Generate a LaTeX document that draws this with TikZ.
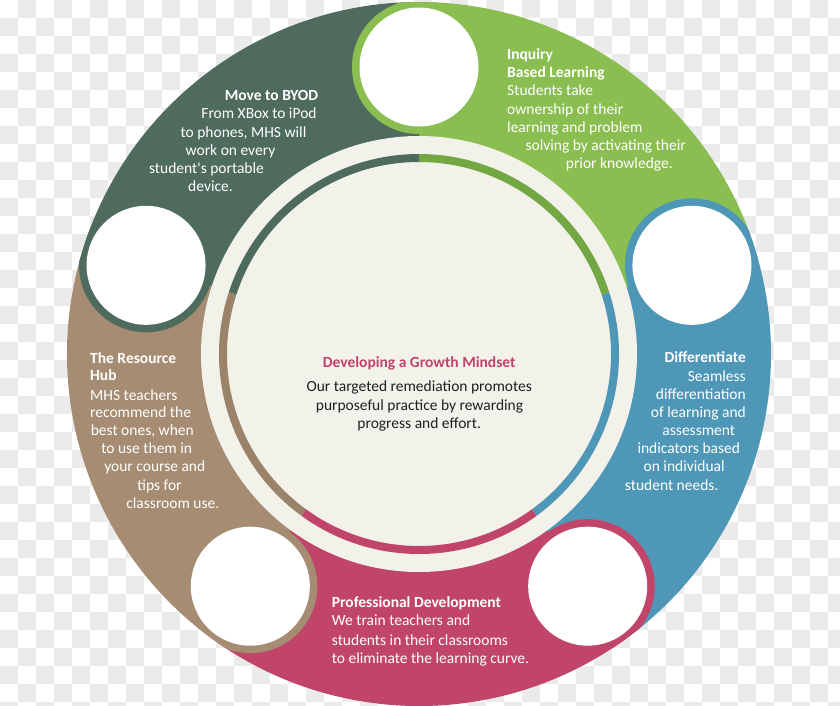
\documentclass[tikz,border=0pt]{standalone}
\usepackage{fontspec}
\setmainfont{Carlito}[Ligatures=TeXOff]
\definecolor{dkgreen}{HTML}{4E6B5E}
\definecolor{ltgreen}{HTML}{8BBE50}
\definecolor{ringgreen}{HTML}{72A744}
\definecolor{blu}{HTML}{4F97B7}
\definecolor{pnk}{HTML}{C14568}
\definecolor{tanc}{HTML}{A68C72}
\definecolor{ringtan}{HTML}{9A8369}
\definecolor{cream}{HTML}{F3F2EA}
\definecolor{chk}{HTML}{EBEBEB}
\definecolor{bodytxt}{HTML}{1E1E1E}
\definecolor{titlepink}{HTML}{C0436A}
\begin{document}
\begin{tikzpicture}[x=1pt,y=1pt,
  txt/.style={text=white, inner sep=0pt, font=\fontsize{15.5}{18}\selectfont},
  head/.style={txt, font=\fontsize{15.5}{18}\selectfont\bfseries},
  ctxt/.style={text=bodytxt, inner sep=0pt, font=\fontsize{15.5}{18}\selectfont},
  chead/.style={text=titlepink, inner sep=0pt, font=\fontsize{15.5}{18}\selectfont\bfseries}]
\useasboundingbox (0,0) rectangle (840,-706);
\clip (0,0) rectangle (840,-706);
\fill[white] (0,0) rectangle (840,-706);
\foreach \i in {0,...,46}{
  \foreach \j in {0,...,39}{
    \pgfmathtruncatemacro{\pp}{mod(\i+\j,2)}
    \ifnum\pp=1 \fill[chk] (\i*18,-\j*18) rectangle ++(18,-18); \fi
  }
}
\coordinate (C) at (419,-354);
% outer wedges
\foreach \a/\c in {306/blu, 18/ltgreen, 90/dkgreen, 162/tanc, 234/pnk}{
  \fill[\c] (C) -- ++(\a:352pt) arc[start angle=\a, end angle=\a+72, radius=352pt] -- cycle;
}
% bordered white circles
\begin{scope}
\clip (C) circle[radius=352pt];
\foreach \a/\c in {306/blu, 18/ltgreen, 90/dkgreen, 162/tanc, 234/pnk}{
  \fill[\c] (C) ++(\a+72:287pt) circle[radius=67pt];
  \fill[white] (C) ++(\a+72:287pt) circle[radius=59.5pt];
}
\end{scope}
% cream centre
\fill[cream] (C) circle[radius=218pt];
\foreach \a/\c in {306/blu, 18/ringgreen, 90/dkgreen, 162/ringtan, 234/pnk}{
  \draw[\c, line width=8pt] (C) ++(\a:196pt) arc[start angle=\a, end angle=\a+72, radius=196pt];
}
% Move to BYOD
\node[head, anchor=base] (byod1) at (271.5,-101) {Move to BYOD};
\node[txt, anchor=base] (byod2) at (259,-119) {From XBox to iPod};
\node[txt, anchor=base] (byod3) at (243.5,-137) {to phones, MHS will};
\node[txt, anchor=base] (byod4) at (230.5,-155) {work on every};
\node[txt, anchor=base] (byod5) at (206.5,-173) {student's portable};
\node[txt, anchor=base] (byod6) at (210.5,-191) {device.};
% Inquiry
\node[head, anchor=base west] (inq1) at (507,-60) {Inquiry};
\node[head, anchor=base west] (inq2) at (507,-78) {Based Learning};
\node[txt, anchor=base west] (inq3) at (507,-96) {Students take};
\node[txt, anchor=base west] (inq4) at (507,-114) {ownership of their};
\node[txt, anchor=base west] (inq5) at (507,-132) {learning and problem};
\node[txt, anchor=base] (inq6) at (605.7,-150) {solving by activating their};
\node[txt, anchor=base] (inq7) at (619.3,-168) {prior knowledge.};
% Differentiate
\node[head, anchor=base east] (dif1) at (746,-362.7) {Differentiate};
\node[txt, anchor=base east] (dif2) at (746,-381) {Seamless};
\node[txt, anchor=base east] (dif3) at (746,-399) {differentiation};
\node[txt, anchor=base east] (dif4) at (746,-417) {of learning and};
\node[txt, anchor=base] (dif5) at (698.8,-435.7) {assessment};
\node[txt, anchor=base] (dif6) at (688.8,-453.7) {indicators based};
\node[txt, anchor=base] (dif7) at (684.2,-471.7) {on individual};
\node[txt, anchor=base] (dif8) at (671.7,-490.3) {student needs.};
% Resource Hub
\node[head, anchor=base west] (hub1) at (90,-363.3) {The Resource};
\node[head, anchor=base west] (hub2) at (90,-380.7) {Hub};
\node[txt, anchor=base west] (hub3) at (90,-400) {MHS teachers};
\node[txt, anchor=base west] (hub4) at (90,-417.7) {recommend the};
\node[txt, anchor=base] (hub5) at (142.3,-435.7) {best ones, when};
\node[txt, anchor=base] (hub6) at (146.7,-453.7) {to use them in};
\node[txt, anchor=base] (hub7) at (154.8,-471.7) {your course and};
\node[txt, anchor=base] (hub8) at (159.5,-490.3) {tips for};
\node[txt, anchor=base] (hub9) at (172.8,-508.3) {classroom use.};
% Professional Development
\node[head, anchor=base west] (pro1) at (331.7,-607.7) {Professional Development};
\node[txt, anchor=base west] (pro2) at (331.7,-625.7) {We train teachers and};
\node[txt, anchor=base west] (pro3) at (331.7,-645) {students in their classrooms};
\node[txt, anchor=base west] (pro4) at (331.7,-663.3) {to eliminate the learning curve.};
% Centre
\node[chead, anchor=base] (ctr1) at (419.2,-367.3) {Developing a Growth Mindset};
\node[ctxt, anchor=base] (ctr2) at (419.2,-391.7) {Our targeted remediation promotes};
\node[ctxt, anchor=base] (ctr3) at (419.5,-410) {purposeful practice by rewarding};
\node[ctxt, anchor=base] (ctr4) at (419.2,-428.3) {progress and effort.};
\end{tikzpicture}
\end{document}
